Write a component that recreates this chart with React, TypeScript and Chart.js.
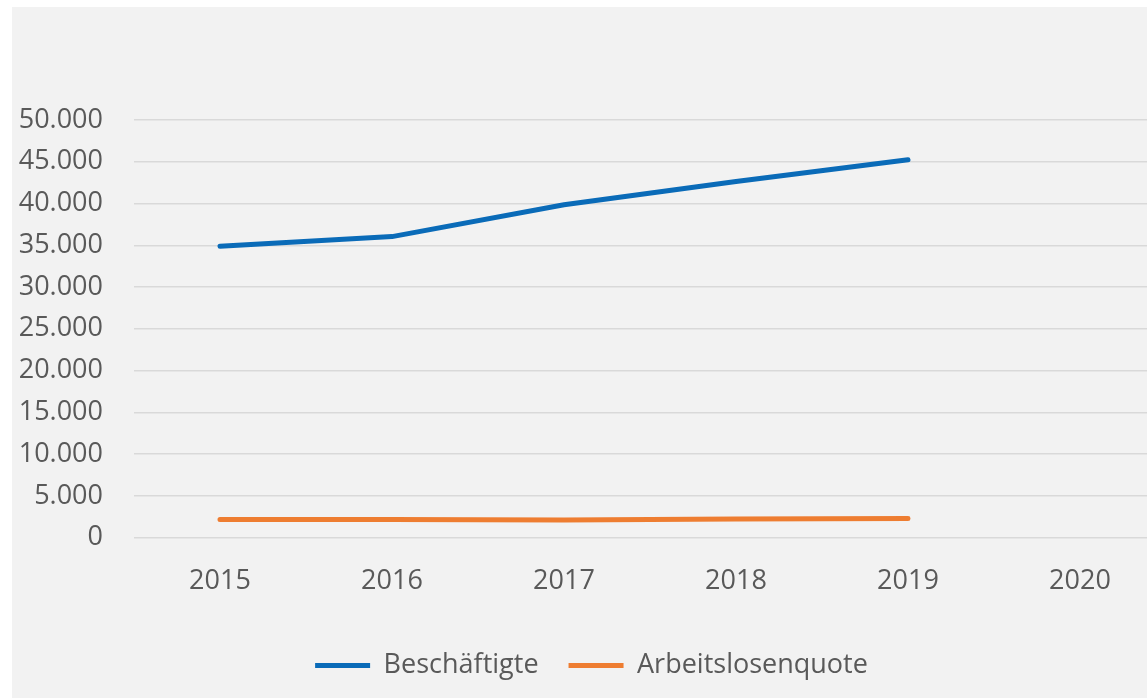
import React, { useEffect, useRef } from "react";
import { Chart, registerables } from "chart.js";

Chart.register(...registerables);

const years = ["2015", "2016", "2017", "2018", "2019", "2020"];
const beschaeftigte = [34880, 36040, 39860, 42640, 45230, null];
const arbeitslosenquote = [2180, 2170, 2100, 2220, 2300, null];
const yMax = 50000;
const yStep = 5000;

const fmt = (v: number) => {
  const s = Math.round(v).toString();
  return s.replace(/\B(?=(\d{3})+(?!\d))/g, ".");
};

export default function App() {
  const ref = useRef<HTMLCanvasElement | null>(null);
  useEffect(() => {
    if (!ref.current) return;
    const font = { family: "'Open Sans', sans-serif", size: 27 };
    const chart = new Chart(ref.current, {
      type: "line",
      data: {
        labels: years,
        datasets: [
          {
            label: "Beschäftigte",
            data: beschaeftigte,
            borderColor: "#0a6bb8",
            backgroundColor: "#0a6bb8",
            borderWidth: 5,
            borderCapStyle: "round",
            borderJoinStyle: "round",
            pointRadius: 0,
            pointStyle: "line",
            tension: 0,
          },
          {
            label: "Arbeitslosenquote",
            data: arbeitslosenquote,
            borderColor: "#ee7d31",
            backgroundColor: "#ee7d31",
            borderWidth: 5,
            borderCapStyle: "round",
            borderJoinStyle: "round",
            pointRadius: 0,
            pointStyle: "line",
            tension: 0,
          },
        ],
      },
      options: {
        responsive: false,
        animation: false,
        layout: { padding: { left: 5, right: 6, top: 113, bottom: 9 } },
        plugins: {
          tooltip: { enabled: false },
          legend: {
            position: "bottom",
            labels: {
              usePointStyle: true,
              pointStyle: "line",
              pointStyleWidth: 55,
              font,
              color: "#595959",
              padding: 30,
            },
          },
        },
        scales: {
          x: {
            offset: true,
            grid: { display: false, drawTicks: false },
            border: { display: false },
            afterFit: (scale: any) => {
              scale.height -= 4;
            },
            ticks: { font, color: "#595959", padding: 28 },
          },
          y: {
            min: 0,
            max: yMax,
            grid: { color: "#d9d9d9", lineWidth: 1.5, drawTicks: false },
            border: { display: false },
            afterFit: (scale: any) => {
              scale.width = 117;
            },
            ticks: {
              stepSize: yStep,
              font,
              color: "#595959",
              padding: 31,
              callback: (v: any) => fmt(Number(v)),
            },
          },
        },
      },
    });
    return () => chart.destroy();
  }, []);
  return (
    <div
      style={{
        position: "absolute",
        left: 12,
        top: 7,
        width: 1135,
        height: 691,
        overflow: "hidden",
        background: "#f2f2f2",
      }}
    >
      <canvas ref={ref} width={1160} height={691} style={{ display: "block" }} />
    </div>
  );
}
